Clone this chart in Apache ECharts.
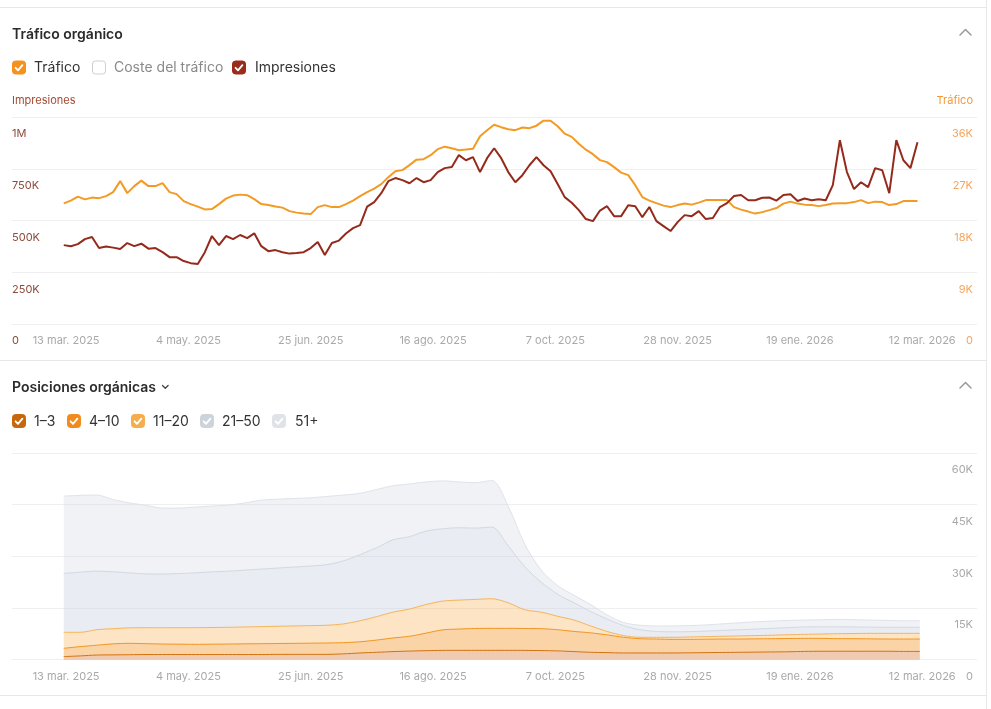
<!DOCTYPE html>
<html><head><meta charset="utf-8">
<script src="https://cdn.jsdelivr.net/npm/echarts@6/dist/echarts.min.js"></script>
<style>html,body{margin:0;padding:0;background:#fff}#c{width:991px;height:709px}</style>
</head><body><div id="c"></div>
<script>
// ---- data ----
// day 0 = 12 mar. 2025
const TOP_STEP_DAYS = 3;     // one sample every 3 days
const POS_STEP_DAYS = 7;     // one sample every week

const tickDays = [1, 53, 105, 157, 209, 261, 313, 365];
const tickLabels = ['13 mar. 2025', '4 may. 2025', '25 jun. 2025', '16 ago. 2025',
                    '7 oct. 2025', '28 nov. 2025', '19 ene. 2026', '12 mar. 2026'];

const trafico = [
 20970,21460,22150,21670,21980,21890,22240,22940,24850,22760,
 23980,24930,23980,23980,24500,22940,22590,21370,20850,20420,
 19930,19980,20850,21810,22330,22500,22410,21720,20850,20680,
 20420,20240,19630,19370,19200,19110,20330,20680,20330,20330,
 20850,21460,22240,22940,23540,24330,25540,26580,26760,27630,
 28580,28670,29360,30410,30840,30580,30230,30350,30490,32670,
 33710,34660,34230,33880,33710,34180,34060,34490,35360,35360,
 34400,33100,32540,31360,30320,29540,28500,28150,27280,26320,
 25890,24150,22070,21460,21020,20590,20330,20680,20940,20760,
 21110,21550,21550,21550,21550,20330,19890,19550,19200,19460,
 19810,20160,20940,21280,20940,20760,20680,20500,20680,20940,
 21020,21020,21200,21550,21020,21280,21200,20680,20850,21370,
 21370,21370
];
const impresiones = [
 381000,376000,386000,410000,420000,367000,374000,369000,362000,391000,
 376000,388000,364000,367000,347000,323000,323000,304000,294000,290000,
 347000,425000,381000,425000,410000,430000,415000,438000,376000,352000,
 357000,347000,340000,343000,347000,367000,396000,333000,391000,403000,
 437000,463000,478000,567000,589000,632000,690000,705000,695000,680000,
 705000,685000,695000,734000,753000,758000,816000,791000,806000,734000,
 801000,849000,801000,734000,685000,719000,767000,806000,767000,738000,
 676000,613000,586000,550000,507000,497000,548000,569000,521000,521000,
 574000,569000,516000,565000,497000,473000,449000,492000,526000,521000,
 545000,507000,512000,565000,584000,618000,623000,598000,598000,610000,
 611000,596000,623000,627000,594000,606000,598000,603000,598000,671000,
 888000,734000,652000,685000,661000,753000,743000,632000,888000,791000,
 753000,878000
];

const pos1_3 = [
 900,1100,1350,1400,1450,1500,1500,1500,1500,1500,
 1500,1500,1500,1550,1550,1550,1550,1700,1950,2150,
 2350,2500,2620,2700,2720,2720,2720,2720,2700,2650,
 2550,2350,2150,2050,1950,1950,1950,1950,2000,2050,
 2100,2150,2200,2250,2300,2400,2450,2450,2450,2450,
 2450,2400,2400
];
const pos4_10 = [
 2400,2700,2850,3200,3300,3150,3050,3000,2960,3000,
 3050,3100,3150,3150,3200,3250,3300,3250,3250,3550,
 3950,4300,5080,5950,6180,6330,6380,6380,6350,6350,
 6150,5850,5650,5150,4550,4150,4050,3950,3900,3900,
 3900,3850,3850,3850,3850,3800,3750,3650,3650,3600,
 3550,3600,3600
];
const pos11_20 = [
 4650,4150,4500,4400,4500,4630,4730,4780,4840,4850,
 4850,4900,4950,5000,5050,5100,5150,5450,6100,6800,
 7500,7900,8300,8350,8400,8450,8600,7400,5450,4800,
 3900,3300,2000,1000,500,400,500,600,700,750,
 800,900,950,1000,1100,1150,1250,1450,1500,1600,
 1650,1650,1650
];
const pos21_50 = [
 17110,17450,17000,16500,15950,15620,15580,15720,15900,16150,
 16300,16500,16700,16900,17100,17300,17600,18300,19200,20000,
 21000,21000,21300,21000,21000,20700,20800,16500,12500,8700,
 6400,5000,4200,3600,2900,2200,1700,1600,1550,1600,
 1700,1800,1900,2000,2050,2150,2100,2000,1900,1800,
 1750,1750,1750
];
const pos51 = [
 22430,22300,22100,21000,20300,19900,19140,19000,19100,19100,
 19180,19500,20000,20000,19900,19800,19800,19100,17800,16900,
 15700,15300,14300,13900,13300,13200,13500,11500,6500,3500,
 2500,2200,2000,1200,900,1300,1600,1700,1750,1800,
 1900,2000,2100,2100,2100,2000,2050,2150,2100,2050,
 2000,1900,1900
];

// ---- chart ----
const FONT = 'Inter, "Noto Sans", sans-serif';
const toPairs = (vals, step) => vals.map((v, i) => [i * step, v]);
// value first, day second (so the stack applies to the value dimension)
const toStackRows = (vals, step) => vals.map((v, i) => [v, i * step]);
const fmtK = v => v === 0 ? '0' : (v >= 1e6 ? (v / 1e6) + 'M' : (v / 1000) + 'K');

function xAxisFor(gridIndex) {
  return {
    type: 'value', gridIndex, min: -22, max: 388.3,
    axisLine: {show: false, onZero: false}, axisTick: {show: false}, splitLine: {show: false},
    axisLabel: {
      customValues: tickDays,
      formatter: v => { const i = tickDays.indexOf(v); return i >= 0 ? tickLabels[i] : ''; },
      color: '#a9a9a9', fontSize: 11, fontFamily: FONT, margin: 11
    }
  };
}
const labelBase = {inside: true, fontSize: 11, fontFamily: FONT, verticalAlign: 'top', lineHeight: 14, padding: [10, 0, 0, 0]};

const graphics = [];
const line = (x1, y1, x2, y2, c) => graphics.push({type: 'line', silent: true, shape: {x1, y1, x2, y2}, style: {stroke: c, lineWidth: 1}});
const text = (x, y, t, opt) => graphics.push({type: 'text', silent: true, style: Object.assign({text: t, x, y, fontFamily: FONT, fontSize: 14, fill: '#333', verticalAlign: 'middle', align: 'left'}, opt || {})});
const poly = (pts, c, w) => graphics.push({type: 'polyline', silent: true, shape: {points: pts}, style: {stroke: c, lineWidth: w, fill: null, lineJoin: 'round', lineCap: 'round'}});
function checkbox(x, y, color, checked, label, tx, labelColor) {
  graphics.push({type: 'rect', silent: true, shape: {x: x + 0.5, y: y + 0.5, width: 13, height: 13, r: 3},
    style: checked ? {fill: color, stroke: color, lineWidth: 1} : {fill: '#fff', stroke: '#cfcfcf', lineWidth: 1}});
  if (checked) poly([[x + 3.6, y + 7.3], [x + 6, y + 9.8], [x + 10.4, y + 4.6]], '#fff', 1.8);
  text(tx, y + 7.5, label, {fill: labelColor || '#333'});
}
line(0, 7.5, 986, 7.5, '#e8e8e8');
line(0, 360.5, 986, 360.5, '#e8e8e8');
line(0, 695.5, 986, 695.5, '#e8e8e8');
line(986.5, 0, 986.5, 709, '#e8e8e8');
text(12, 34.5, 'Tráfico orgánico', {fontWeight: 600, fill: '#2b2b2b'});
poly([[960, 35], [965.5, 29.5], [971, 35]], '#9a9a9a', 1.5);
checkbox(12, 60.5, '#f5921e', true, 'Tráfico', 34);
checkbox(92, 60.5, '#ccc', false, 'Coste del tráfico', 114, '#8a8a8a');
checkbox(232, 60.5, '#9a2c1c', true, 'Impresiones', 255);
text(12, 387.5, 'Posiciones orgánicas', {fontWeight: 600, fill: '#2b2b2b'});
poly([[162.5, 385.5], [165.3, 388.3], [168.1, 385.5]], '#444', 1.3);
poly([[960, 388], [965.5, 382.5], [971, 388]], '#9a9a9a', 1.5);
checkbox(12, 414, '#c8660c', true, '1–3', 34);
checkbox(67, 414, '#f28b1c', true, '4–10', 89);
checkbox(131, 414, '#f6ad4c', true, '11–20', 153);
checkbox(200, 414, '#cdd3db', true, '21–50', 222);
checkbox(272, 414, '#dfe3e8', true, '51+', 295);

function areaSeries(name, data, lineColor, fill) {
  return {
    name, type: 'line', xAxisIndex: 1, yAxisIndex: 2, stack: 'pos', smooth: 0.3,
    showSymbol: false, symbol: 'none', data: toStackRows(data, POS_STEP_DAYS),
    encode: {x: 1, y: 0},
    lineStyle: {color: lineColor, width: 1}, areaStyle: {color: fill, opacity: 1},
    itemStyle: {color: lineColor}, emphasis: {disabled: true}
  };
}

const chart = echarts.init(document.getElementById('c'));
chart.setOption({
  animation: false,
  backgroundColor: '#fff',
  textStyle: {fontFamily: FONT},
  grid: [
    {left: 12, right: 14, top: 117, height: 207, containLabel: false},
    {left: 12, right: 14, top: 453, height: 206.7, containLabel: false}
  ],
  xAxis: [xAxisFor(0), xAxisFor(1)],
  yAxis: [
    {type: 'value', gridIndex: 0, position: 'left', min: 0, max: 1000000, interval: 250000,
     name: 'Impresiones', nameLocation: 'end', nameGap: 16,
     nameTextStyle: {align: 'left', verticalAlign: 'middle', color: '#a5492f', fontSize: 11, fontFamily: FONT},
     axisLine: {show: false, onZero: false}, axisTick: {show: false},
     splitLine: {lineStyle: {color: '#efefef', width: 1}},
     axisLabel: Object.assign({}, labelBase, {margin: 0, color: '#8d4a3b', formatter: fmtK})},
    {type: 'value', gridIndex: 0, position: 'right', min: 0, max: 36000, interval: 9000,
     name: 'Tráfico', nameLocation: 'end', nameGap: 16,
     nameTextStyle: {align: 'right', verticalAlign: 'middle', color: '#f29a3a', fontSize: 11, fontFamily: FONT, padding: [0, 4, 0, 0]},
     axisLine: {show: false, onZero: false}, axisTick: {show: false}, splitLine: {show: false},
     axisLabel: Object.assign({}, labelBase, {margin: 4, color: '#f4a55e', formatter: fmtK})},
    {type: 'value', gridIndex: 1, position: 'right', min: 0, max: 60000, interval: 15000,
     axisLine: {show: false, onZero: false}, axisTick: {show: false},
     splitLine: {lineStyle: {color: '#efefef', width: 1}},
     axisLabel: Object.assign({}, labelBase, {margin: 4, color: '#a9a9a9', formatter: fmtK})}
  ],
  series: [
    {name: 'Tráfico', type: 'line', xAxisIndex: 0, yAxisIndex: 1, showSymbol: false, symbol: 'none',
     data: toPairs(trafico, TOP_STEP_DAYS), lineStyle: {color: '#f39a24', width: 2}, itemStyle: {color: '#f39a24'}},
    {name: 'Impresiones', type: 'line', xAxisIndex: 0, yAxisIndex: 0, showSymbol: false, symbol: 'none',
     data: toPairs(impresiones, TOP_STEP_DAYS), lineStyle: {color: '#942a1b', width: 2}, itemStyle: {color: '#942a1b'}},
    areaSeries('1–3', pos1_3, '#d2720e', 'rgba(222,130,70,0.42)'),
    areaSeries('4–10', pos4_10, '#f0951f', 'rgba(245,160,60,0.45)'),
    areaSeries('11–20', pos11_20, '#f6b45a', 'rgba(248,172,72,0.32)'),
    areaSeries('21–50', pos21_50, '#d3d9e1', 'rgba(198,206,220,0.38)'),
    areaSeries('51+', pos51, '#dfe3e9', 'rgba(210,216,228,0.33)')
  ],
  graphic: graphics
});
</script>
</body></html>
